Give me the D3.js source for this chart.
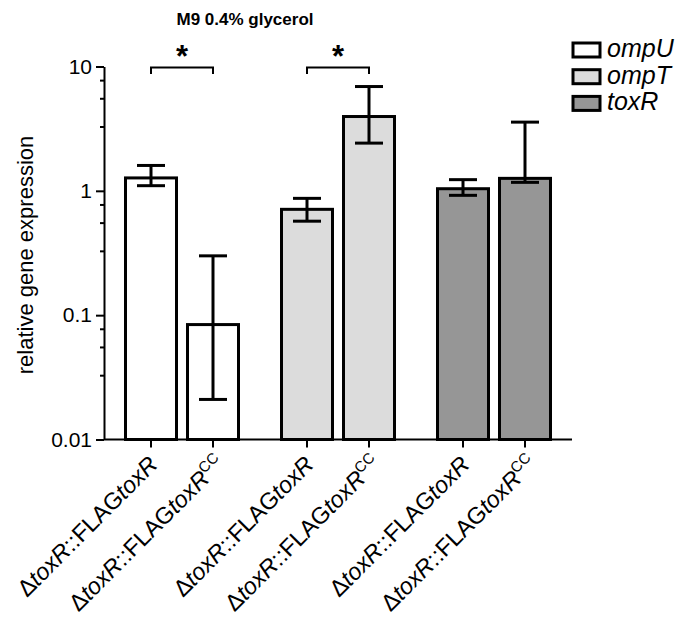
<!DOCTYPE html>
<html><head><meta charset="utf-8">
<script src="https://cdn.jsdelivr.net/npm/d3@7"></script>
<style>
body{margin:0;background:#fff}
svg{display:block}
text{font-family:"Liberation Sans",Arial,Helvetica,sans-serif;fill:#000}
</style>
</head><body>
<svg id="chart" width="684" height="625"></svg>
<script>
// ---------- data ----------
const title = "M9 0.4% glycerol";
const yLabel = "relative gene expression";
const genes = ["ompU", "ompT", "toxR"];
const strains = ["FLAGtoxR", "FLAGtoxRCC"];
const strainSuperscripts = ["", "CC"];
const meanOmpU = [1.27, 0.084];
const meanOmpT = [0.71, 3.96];
const meanToxR = [1.04, 1.26];
const lowOmpU = [1.10, 0.021];
const lowOmpT = [0.57, 2.42];
const lowToxR = [0.92, 1.17];
const highOmpU = [1.60, 0.30];
const highOmpT = [0.87, 6.9];
const highToxR = [1.23, 3.57];
const yTickValues = [0.01, 0.1, 1, 10];
const yTickLabels = ["0.01", "0.1", "1", "10"];
const minorMantissas = [7.7, 5.5, 3.26];
const significantGenes = ["ompU", "ompT"];
const sigMark = "*";
const geneFill = ["#ffffff", "#dcdcdc", "#969696"];

const means = [meanOmpU, meanOmpT, meanToxR];
const lows = [lowOmpU, lowOmpT, lowToxR];
const highs = [highOmpU, highOmpT, highToxR];

const rows = [];
genes.forEach((g, gi) => strains.forEach((s, si) => rows.push({
  gene: g, gi, strain: s, si, mean: means[gi][si], low: lows[gi][si], high: highs[gi][si]
})));

// ---------- layout ----------
const svg = d3.select("#chart");
const x0 = 104, x1 = 572, yTop = 66.5, yBot = 439.5;
const y = d3.scaleLog().domain([0.01, 10]).range([yBot, yTop]);
const xg = d3.scaleBand().domain(genes).range([x0, x1]).padding(0);
const xs = d3.scalePoint().domain(strains).range([47, 109]);
const barW = 51;
const cx = d => xg(d.gene) + xs(d.strain);

// title
svg.append("text").attr("x", 245).attr("y", 25).attr("text-anchor", "middle")
  .style("font-weight", "bold").style("font-size", "17px").text(title);

// y axis
const yAxis = d3.axisLeft(y).tickValues(yTickValues)
  .tickFormat((d, i) => yTickLabels[i]).tickSize(8).tickSizeOuter(0).tickPadding(4);
const gy = svg.append("g").attr("transform", `translate(${x0},0)`).call(yAxis);
gy.select(".domain").attr("stroke", "#000").attr("stroke-width", 2);
gy.selectAll(".tick line").attr("stroke", "#000").attr("stroke-width", 2);
gy.selectAll(".tick text").style("font-size", "21px").attr("font-family", null);

// minor ticks
const minors = [];
yTickValues.slice(0, -1).forEach(v => minorMantissas.forEach(m => minors.push(v * m)));
svg.append("g").selectAll("line").data(minors).join("line")
  .attr("x1", x0 - 4).attr("x2", x0).attr("y1", d => y(d)).attr("y2", d => y(d))
  .attr("stroke", "#000").attr("stroke-width", 2);

// y label
svg.append("text").attr("transform", `translate(33,255) rotate(-90)`)
  .attr("text-anchor", "middle").style("font-size", "22px").text(yLabel);

// bars
svg.append("g").selectAll("rect").data(rows).join("rect")
  .attr("x", d => cx(d) - barW / 2).attr("width", barW)
  .attr("y", d => y(d.mean)).attr("height", d => yBot - y(d.mean))
  .attr("fill", d => geneFill[d.gi]).attr("stroke", "#000").attr("stroke-width", 3);

// error bars
const eb = svg.append("g").attr("stroke", "#000").attr("stroke-width", 3);
rows.forEach(d => {
  eb.append("line").attr("x1", cx(d)).attr("x2", cx(d)).attr("y1", y(d.high)).attr("y2", y(d.low));
  [d.high, d.low].forEach(v => eb.append("line")
    .attr("x1", cx(d) - 14).attr("x2", cx(d) + 14).attr("y1", y(v)).attr("y2", y(v)));
});

// x axis
svg.append("line").attr("x1", x0).attr("x2", x1).attr("y1", yBot).attr("y2", yBot)
  .attr("stroke", "#000").attr("stroke-width", 2);
svg.append("g").selectAll("line").data(rows).join("line")
  .attr("x1", cx).attr("x2", cx).attr("y1", yBot).attr("y2", yBot + 8)
  .attr("stroke", "#000").attr("stroke-width", 2);

// x labels
rows.forEach(d => {
  const sup = strainSuperscripts[d.si];
  const tx = cx(d) + (sup ? 13 : 8), ty = sup ? 465 : 466;
  const t = svg.append("text")
    .attr("transform", `translate(${tx},${ty}) rotate(-45)`)
    .attr("text-anchor", "end").style("font-size", "23.5px");
  t.append("tspan").text("\u0394");
  t.append("tspan").style("font-style", "italic").text("toxR");
  t.append("tspan").text("::FLAG");
  t.append("tspan").style("font-style", "italic").text("toxR");
  if (sup) {
    t.append("tspan").attr("dy", -9).style("font-size", "15px").text(sup);
  }
});

// significance brackets
const br = svg.append("g");
significantGenes.forEach(g => {
  const a = cx(rows.find(r => r.gene === g && r.si === 0));
  const b = cx(rows.find(r => r.gene === g && r.si === 1));
  br.append("path").attr("d", `M${a},74V67.5H${b}V74`)
    .attr("fill", "none").attr("stroke", "#000").attr("stroke-width", 2);
  br.append("text").attr("x", (a + b) / 2).attr("y", 67).attr("text-anchor", "middle")
    .style("font-weight", "bold").style("font-size", "31px").text(sigMark);
});

// legend
const lg = svg.append("g").attr("transform", "translate(573,43)");
genes.forEach((g, i) => {
  lg.append("rect").attr("x", 0).attr("y", i * 26.7).attr("width", 27).attr("height", 14)
    .attr("fill", geneFill[i]).attr("stroke", "#000").attr("stroke-width", 3);
  lg.append("text").attr("x", 34).attr("y", i * 26.7 + 14).style("font-style", "italic")
    .style("font-size", "25px").text(g);
});
</script>
</body></html>
